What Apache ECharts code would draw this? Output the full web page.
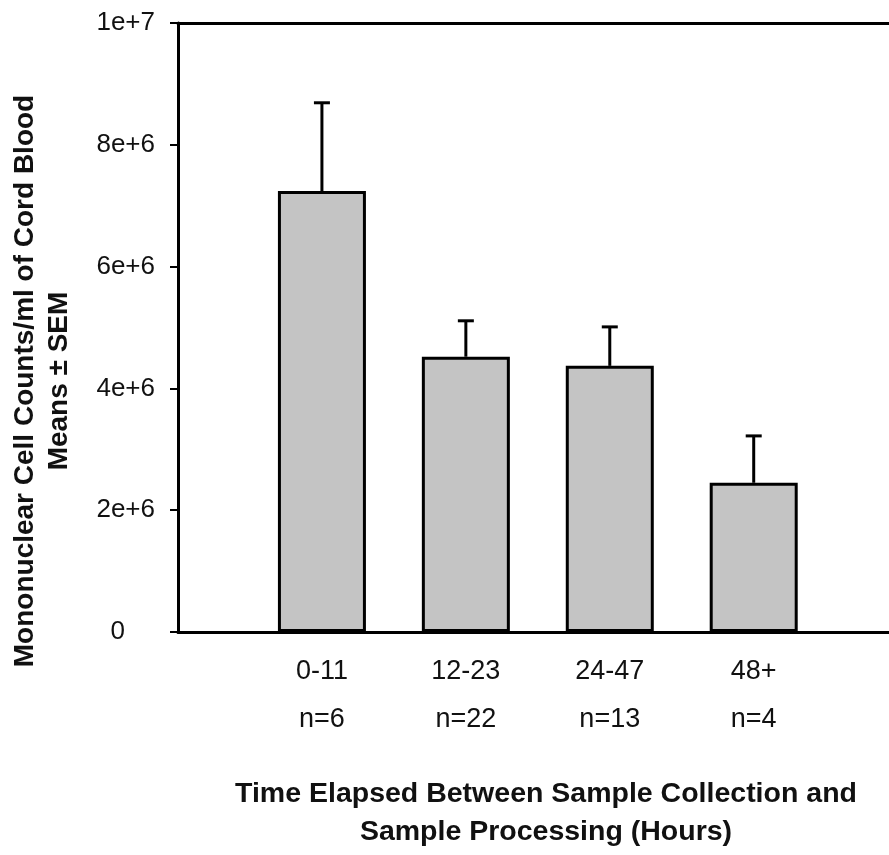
<!DOCTYPE html>
<html>
<head>
<meta charset="utf-8">
<script src="https://cdn.jsdelivr.net/npm/echarts@6/dist/echarts.min.js"></script>
<style>
html,body{margin:0;padding:0;background:#fff;}
#chart{width:889px;height:855px;}
</style>
</head>
<body>
<div id="chart"></div>
<script>
const categories = ['0-11', '12-23', '24-47', '48+'];
const groupSizes = ['n=6', 'n=22', 'n=13', 'n=4'];
const positions = [1, 2, 3, 4];
const means = [7.24e6, 4.52e6, 4.37e6, 2.45e6];
const sems = [1.45e6, 0.59e6, 0.64e6, 0.77e6];
const yTickLabels = ['0', '2e+6', '4e+6', '6e+6', '8e+6', '1e+7'];
const yTitle = ['Mononuclear Cell Counts/ml of Cord Blood', 'Means \u00b1 SEM'];
const xTitle = ['Time Elapsed Between Sample Collection and', 'Sample Processing (Hours)'];

const FONT = 'Liberation Sans, Arial, sans-serif';
const chart = echarts.init(document.getElementById('chart'));

const barData = means.map((m, i) => [positions[i], m]);
const errData = means.map((m, i) => [positions[i], m, m + sems[i]]);

chart.setOption({
  backgroundColor: '#fff',
  animation: false,
  grid: { left: 178, right: 0, top: 23, bottom: 223, containLabel: false },
  xAxis: [{
    type: 'value', min: 0, max: 4.94, interval: 1,
    axisLine: { show: true, lineStyle: { color: '#000', width: 3 } },
    axisTick: { show: false },
    splitLine: { show: false },
    axisLabel: {
      margin: 16,
      showMaxLabel: false,
      formatter: function (v) {
        const i = positions.indexOf(v);
        if (i < 0) return '';
        return '{a|' + categories[i] + '}\n{a|' + groupSizes[i] + '}';
      },
      rich: { a: { fontFamily: FONT, fontSize: 27, color: '#111', lineHeight: 48 } }
    }
  }, {
    type: 'value', position: 'top', min: 0, max: 4.94, interval: 1,
    axisLine: { show: true, lineStyle: { color: '#000', width: 3 } },
    axisTick: { show: false }, axisLabel: { show: false }, splitLine: { show: false }
  }],
  yAxis: {
    type: 'value', min: 0, max: 1e7, interval: 2e6,
    axisLine: { show: true, lineStyle: { color: '#000', width: 3 } },
    axisTick: { show: true, length: 8, lineStyle: { color: '#000', width: 2 } },
    splitLine: { show: false },
    axisLabel: {
      margin: 23,
      formatter: function (v) {
        const i = Math.round(v / 2e6);
        if (i === 0) return '{z|' + yTickLabels[0] + '}';
        return '{n|' + yTickLabels[i] + '}';
      },
      rich: {
        n: { fontFamily: FONT, fontSize: 26, color: '#111' },
        z: { fontFamily: FONT, fontSize: 26, color: '#111', padding: [0, 30, 0, 0] }
      }
    }
  },
  series: [{
    type: 'bar',
    data: barData,
    barWidth: 88,
    itemStyle: { color: '#c4c4c4', borderColor: '#000', borderWidth: 3 },
    z: 2
  }, {
    type: 'custom',
    data: errData,
    z: 3,
    renderItem: function (params, api) {
      const x = api.value(0);
      const p0 = api.coord([x, api.value(1)]);
      const p1 = api.coord([x, api.value(2)]);
      const st = { stroke: '#000', lineWidth: 3 };
      return {
        type: 'group',
        children: [
          { type: 'line', shape: { x1: p0[0], y1: p0[1], x2: p1[0], y2: p1[1] }, style: st },
          { type: 'line', shape: { x1: p1[0] - 8, y1: p1[1], x2: p1[0] + 8, y2: p1[1] }, style: st }
        ]
      };
    }
  }],
  graphic: [{
    type: 'text',
    x: 42, y: 381,
    rotation: Math.PI / 2,
    style: {
      text: yTitle.join('\n'),
      fontFamily: FONT, fontSize: 28, fontWeight: 'bold', fill: '#111',
      align: 'center', verticalAlign: 'middle', lineHeight: 34
    }
  }, {
    type: 'text',
    x: 546, y: 813,
    style: {
      text: xTitle.join('\n'),
      fontFamily: FONT, fontSize: 28.5, fontWeight: 'bold', fill: '#111',
      align: 'center', verticalAlign: 'middle', lineHeight: 38
    }
  }]
});
</script>
</body>
</html>
